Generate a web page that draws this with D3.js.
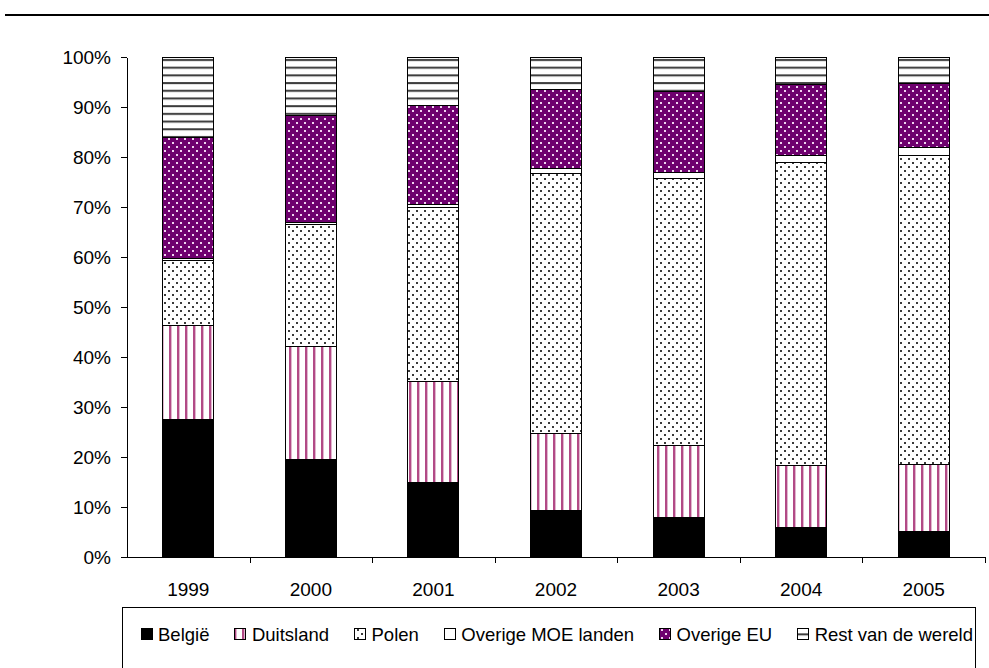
<!DOCTYPE html>
<html>
<head>
<meta charset="utf-8">
<script src="https://cdn.jsdelivr.net/npm/d3@7"></script>
<style>
  body { margin: 0; background: #fff; }
  svg { display: block; font-family: "Liberation Sans", Arial, sans-serif; }
  .axis path, .axis line { stroke: #000; shape-rendering: crispEdges; }
  .axis text { fill: #000; }
</style>
</head>
<body>
<div id="chart"></div>
<script>
    // data (percentages)
    const years = ["1999", "2000", "2001", "2002", "2003", "2004", "2005"];
    const belgie     = [27.5, 19.6, 14.9, 9.4, 7.9, 5.9, 5.2];
    const duitsland  = [18.9, 22.6, 20.2, 15.3, 14.5, 12.4, 13.4];
    const polen      = [12.9, 24.3, 34.8, 52.1, 53.4, 60.7, 61.7];
    const overigeMoe = [0.5, 0.4, 0.7, 0.9, 1.1, 1.3, 1.6];
    const overigeEu  = [24.2, 21.4, 19.7, 15.8, 16.2, 14.2, 12.9];
    const rest       = [16.0, 11.7, 9.7, 6.5, 6.9, 5.5, 5.2];
    const seriesNames = ["België", "Duitsland", "Polen", "Overige MOE landen", "Overige EU", "Rest van de wereld"];
    const yTicks = [0, 10, 20, 30, 40, 50, 60, 70, 80, 90, 100];

    const svgWidth = 989;
    const svgHeight = 668;
    const margin = { top: 57, right: 4, bottom: 111, left: 127 };
    const width = svgWidth - margin.left - margin.right;
    const height = svgHeight - margin.top - margin.bottom;

    const svg = d3.select("#chart")
        .append("svg")
        .attr("width", svgWidth)
        .attr("height", svgHeight);

    // fill patterns
    const defs = svg.append("defs");

    const pStripe = defs.append("pattern").attr("id", "p-duits")
        .attr("patternUnits", "userSpaceOnUse").attr("width", 8).attr("height", 8);
    pStripe.append("rect").attr("width", 8).attr("height", 8).attr("fill", "#fff");
    pStripe.append("rect").attr("x", 2).attr("width", 2.4).attr("height", 8).attr("fill", "#b24a86");

    const pDots = defs.append("pattern").attr("id", "p-polen")
        .attr("patternUnits", "userSpaceOnUse").attr("width", 8).attr("height", 8);
    pDots.append("rect").attr("width", 8).attr("height", 8).attr("fill", "#fff");
    pDots.append("rect").attr("x", 1).attr("y", 1).attr("width", 2).attr("height", 2).attr("fill", "#3a3a3a");
    pDots.append("rect").attr("x", 5).attr("y", 5).attr("width", 2).attr("height", 2).attr("fill", "#3a3a3a");

    const pEu = defs.append("pattern").attr("id", "p-eu")
        .attr("patternUnits", "userSpaceOnUse").attr("width", 8).attr("height", 8);
    pEu.append("rect").attr("width", 8).attr("height", 8).attr("fill", "#6e006e");
    pEu.append("rect").attr("x", 1).attr("y", 1).attr("width", 2).attr("height", 2).attr("fill", "#f0d4f0");
    pEu.append("rect").attr("x", 5).attr("y", 5).attr("width", 2).attr("height", 2).attr("fill", "#f0d4f0");

    const pRest = defs.append("pattern").attr("id", "p-rest")
        .attr("patternUnits", "userSpaceOnUse").attr("width", 8).attr("height", 7.7);
    pRest.append("rect").attr("width", 8).attr("height", 7.7).attr("fill", "#fff");
    pRest.append("rect").attr("y", 2).attr("width", 8).attr("height", 2).attr("fill", "#3a3a3a");

    const fills = ["#000", "url(#p-duits)", "url(#p-polen)", "#fff", "url(#p-eu)", "url(#p-rest)"];

    // top rule
    svg.append("line")
        .attr("x1", 5).attr("x2", svgWidth)
        .attr("y1", 15).attr("y2", 15)
        .attr("stroke", "#000").attr("stroke-width", 2);

    const chart = svg.append("g")
        .attr("transform", `translate(${margin.left},${margin.top})`);

    const table = years.map((yr, i) => ({
        year: yr,
        s0: belgie[i], s1: duitsland[i], s2: polen[i],
        s3: overigeMoe[i], s4: overigeEu[i], s5: rest[i]
    }));
    const keys = ["s0", "s1", "s2", "s3", "s4", "s5"];
    const stacked = d3.stack().keys(keys).offset(d3.stackOffsetExpand)(table);

    const x = d3.scaleBand()
        .domain(years)
        .range([0, width])
        .paddingInner(1.4 / 2.4)
        .paddingOuter(0.7 / 2.4);

    const xEdge = d3.scaleLinear().domain([0, years.length]).range([0, width]);

    const y = d3.scaleLinear()
        .domain([0, 1])
        .range([height, 0]);

    // bars
    chart.append("g").selectAll("g")
        .data(stacked)
        .join("g")
        .attr("fill", (d, i) => fills[i])
        .selectAll("rect")
        .data(d => d)
        .join("rect")
            .attr("x", d => x(d.data.year))
            .attr("y", d => y(d[1]))
            .attr("width", x.bandwidth())
            .attr("height", d => y(d[0]) - y(d[1]))
            .attr("stroke", "#000")
            .attr("stroke-width", 1)
            .attr("shape-rendering", "crispEdges");

    // Y axis
    chart.append("g")
        .attr("class", "axis axis-y")
        .call(d3.axisLeft(y)
            .tickValues(yTicks.map(v => v / 100))
            .tickFormat(d => Math.round(d * 100) + "%")
            .tickSize(6).tickSizeOuter(0).tickPadding(10))
        .call(g => g.selectAll("text").attr("font-size", 19).attr("font-family", "Liberation Sans, Arial, sans-serif"));

    // X axis: ticks at category boundaries, labels centred
    chart.append("g")
        .attr("class", "axis axis-x")
        .attr("transform", `translate(0, ${height})`)
        .call(d3.axisBottom(xEdge)
            .tickValues(d3.range(1, years.length + 1))
            .tickFormat("")
            .tickSize(6).tickSizeOuter(0));

    chart.append("g")
        .attr("class", "axis axis-x-labels")
        .attr("transform", `translate(0, ${height})`)
        .call(d3.axisBottom(x).tickSize(0).tickPadding(26))
        .call(g => g.select(".domain").remove())
        .call(g => g.selectAll("text").attr("font-size", 19).attr("font-family", "Liberation Sans, Arial, sans-serif"));

    // legend
    const legend = svg.append("g").attr("class", "legend");
    legend.append("rect")
        .attr("x", 122.5).attr("y", 607.5)
        .attr("width", 853).attr("height", 70)
        .attr("fill", "#fff").attr("stroke", "#000").attr("stroke-width", 1);

    const items = legend.selectAll("g.item")
        .data(seriesNames)
        .join("g")
        .attr("class", "item");

    items.append("rect")
        .attr("width", 11).attr("height", 11)
        .attr("y", 628.5)
        .attr("fill", (d, i) => fills[i])
        .attr("stroke", "#000").attr("stroke-width", 1)
        .attr("shape-rendering", "crispEdges");

    items.append("text")
        .attr("y", 641)
        .attr("font-size", 18.5)
        .text(d => d);

    const widths = [];
    items.select("text").each(function() { widths.push(this.getComputedTextLength()); });
    const legStart = 141, legEnd = 973, swatchGap = 17;
    const used = d3.sum(widths) + widths.length * swatchGap;
    const gap = (legEnd - legStart - used) / (widths.length - 1);
    let cx = legStart;
    items.each(function(d, i) {
        d3.select(this).select("rect").attr("x", cx);
        d3.select(this).select("text").attr("x", cx + swatchGap);
        cx += swatchGap + widths[i] + gap;
    });
</script>
</body>
</html>
